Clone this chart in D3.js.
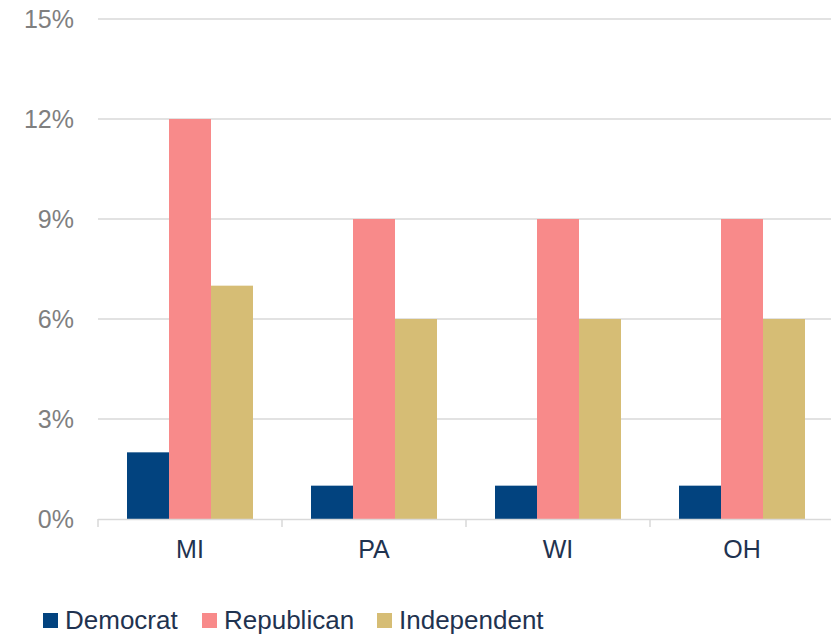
<!DOCTYPE html>
<html><head><meta charset="utf-8">
<script src="https://cdn.jsdelivr.net/npm/d3@7"></script>
<style>body{margin:0;background:#fff;} svg{display:block;font-family:"Liberation Sans",Arial,sans-serif;}</style>
</head><body>
<svg id="c" width="831" height="634"></svg>
<script>
const categories = ["MI","PA","WI","OH"];
const seriesNames = ["Democrat","Republican","Independent"];
const democrat = [2,1,1,1];
const republican = [12,9,9,9];
const independent = [7,6,6,6];
const yTicks = [0,3,6,9,12,15];
const colors = ["#02437f","#f88a8a","#d6bd75"];

(function(){
const svg = d3.select("#c");
const mL = 98, mR = 834, mT = 19, mB = 519;
const x = d3.scaleBand().domain(categories).range([mL,mR]).paddingInner(0).paddingOuter(0);
const y = d3.scaleLinear().domain([0,15]).range([mB,mT]);
const barW = 42;
const xs = d3.scaleBand().domain(seriesNames).range([0,barW*3]);
const values = [democrat,republican,independent];

svg.append("g").selectAll("line").data(yTicks.filter(d=>d>0)).join("line")
  .attr("x1",mL).attr("x2",831).attr("y1",d=>y(d)).attr("y2",d=>y(d))
  .attr("stroke","#d9d9d9").attr("stroke-width",1.3);

svg.append("g").selectAll("text").data(yTicks).join("text")
  .attr("x",74).attr("y",d=>y(d)).attr("dy","0.36em").attr("text-anchor","end")
  .attr("fill","#7f7f7f").attr("font-size",25).text(d=>d+"%");

seriesNames.forEach((s,si)=>{
  svg.append("g").selectAll("rect").data(categories).join("rect")
    .attr("x",c=>x(c)+(x.bandwidth()-barW*3)/2+xs(s))
    .attr("width",xs.bandwidth())
    .attr("y",(c,i)=>y(values[si][i]))
    .attr("height",(c,i)=>mB-y(values[si][i]))
    .attr("fill",colors[si]);
});

svg.append("line").attr("x1",mL).attr("x2",831).attr("y1",mB+0.5).attr("y2",mB+0.5)
  .attr("stroke","#d9d9d9").attr("stroke-width",1.5);
svg.append("g").selectAll("line").data(categories.concat(["_end"])).join("line")
  .attr("x1",(d,i)=>mL+i*x.bandwidth()).attr("x2",(d,i)=>mL+i*x.bandwidth())
  .attr("y1",mB).attr("y2",mB+8).attr("stroke","#d9d9d9").attr("stroke-width",1.5);
svg.append("g").selectAll("text").data(categories).join("text")
  .attr("x",c=>x(c)+x.bandwidth()/2).attr("y",558)
  .attr("text-anchor","middle").attr("fill","#1f3350").attr("font-size",25).text(d=>d);

const lg = svg.append("g");
const legX = [43,202,377];
seriesNames.forEach((s,i)=>{
  lg.append("rect").attr("x",legX[i]).attr("y",613).attr("width",15).attr("height",15).attr("fill",colors[i]);
  lg.append("text").attr("x",legX[i]+22).attr("y",629)
    .attr("fill","#1f3350").attr("font-size",26).text(s);
});
})();
</script>
</body></html>
